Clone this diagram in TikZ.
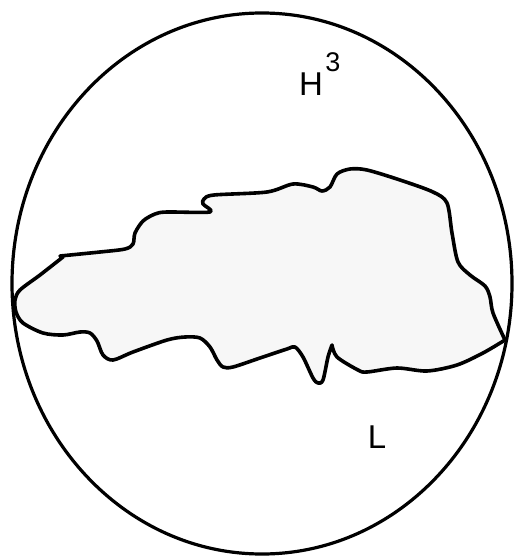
\documentclass[tikz,border=0pt]{standalone}
\usepackage{fontspec}
\setmainfont{Liberation Sans}
\begin{document}
\begin{tikzpicture}[
        x=0.5pt,
        y=-0.5pt,
        % boundary of the ball
        ball/.style={
            draw,
            line width=1.6pt
        },
        % the shaded region
        region/.style={
            draw,
            fill=gray!6,
            line width=1.8pt,
            line join=round
        },
        % text labels
        label_text/.style={
            inner sep=0pt,
            font=\fontsize{16.5}{19}\selectfont
        }
    ]
    \useasboundingbox (0,0) rectangle (514,557);

    % --- 1. the ball ---
    \draw[ball] (262,283.5) ellipse [x radius=250, y radius=270.5];

    % --- 2. the region (lower edge, right side and top, left end) ---
    \draw[region]
        plot[smooth] coordinates {(332,345) (337,357) (358,370) (367,372) (397,368) (427,371) (457,365) (483,353) (505,340)}
        -- plot[smooth] coordinates {(505,340) (493,313) (490,297) (485,286) (470,275) (458,262) (452,233) (447,203) (433,192) (400,180) (367,170) (350,169) (337,174) (330,187) (322,191) (313,187) (293,184) (267,192) (214,195) (204,199) (203,204) (210,212) (167,212) (155,214) (143,221) (135,233) (133,244) (125,249) (100,252) (60,256)}
        -- plot[smooth] coordinates {(63,257) (40,275) (20,290) (15,300) (16,312) (23,323) (43,333) (63,335) (80,332) (90,333) (97,341) (103,355) (113,360) (133,352) (167,340) (185,337) (200,338) (210,347) (217,360) (223,367) (233,367) (260,358) (287,349) (295,347) (303,357) (313,378) (318,383) (323,380) (328,357) (332,345)}
        -- cycle;

    % --- 3. labels ---
    \node (hyp) [label_text] at (311,84) {H};
    \node (hypdim) [label_text, font=\fontsize{13.5}{15}\selectfont] at (333,62) {3};
    \node (ell) [label_text] at (377,437) {L};

\end{tikzpicture}
\end{document}
